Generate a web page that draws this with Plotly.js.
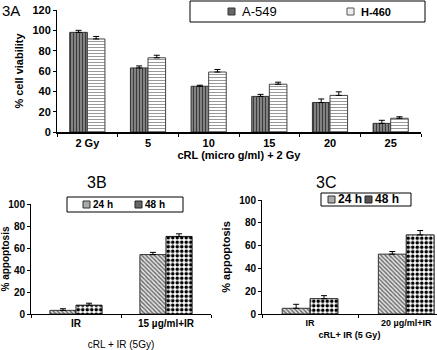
<!DOCTYPE html>
<html><head><meta charset="utf-8">
<script src="https://cdn.plot.ly/plotly-3.0.1.min.js"></script>
<style>html,body{margin:0;padding:0;background:#fff}#c{width:437px;height:350px}</style>
</head><body><div id="c"></div><script>
// Panel 3A: cell viability
const doseLabels = ['2 Gy','5','10','15','20','25'];
const a549 = [98, 63, 45, 35, 29, 8.5];
const a549Err = [2, 2, 1, 2, 3.5, 3];
const h460 = [91.5, 73, 59, 47, 36, 13.5];
const h460Err = [2.5, 2.5, 2.5, 2, 3.5, 1.5];
const seriesA = ['A-549', 'H-460'];

// Panel 3B: apoptosis
const bLabels = ['IR', '15 µg/ml+IR'];
const b24 = [3.3, 54];
const b24Err = [1.5, 2];
const b48 = [8, 70.5];
const b48Err = [1.8, 2.4];

// Panel 3C: apoptosis
const cLabels = ['IR', '20 µg/ml+IR'];
const c24 = [5, 52.5];
const c24Err = [3.5, 2.3];
const c48 = [13.4, 69.4];
const c48Err = [2.7, 3.8];
const seriesT = ['24 h', '48 h'];

const W = 437, H = 350;
const px = x => x / W, py = y => 1 - y / H;
const FONT = 'Arial, "Liberation Sans", sans-serif';

const styleA549 = {color:'#777', line:{color:'#333', width:1}, pattern:{shape:'|', fgcolor:'#3c3c3c', bgcolor:'#8a8a8a', size:3, solidity:0.4}};
const styleH460 = {color:'#fff', line:{color:'#444', width:1}, pattern:{shape:'-', fgcolor:'#999', bgcolor:'#fff', size:3, solidity:0.35}};
const style24 = {color:'#bbb', line:{color:'#333', width:1}, pattern:{shape:'\\', fgcolor:'#666', bgcolor:'#e4e4e4', size:3, solidity:0.45}};
const style48 = {color:'#000', line:{color:'#111', width:1}, pattern:{shape:'.', fgcolor:'#000', bgcolor:'#fff', size:4.5, solidity:0.5}};

function errUp(arr){ return {type:'data', symmetric:false, array:arr, arrayminus:arr.map(()=>0), color:'#000', thickness:1, width:3}; }

function bar(name, x, y, err, marker, xa, ya){
  return {type:'bar', name:name, x:x, y:y, xaxis:xa, yaxis:ya, marker:marker, error_y:errUp(err), showlegend:false, hoverinfo:'x+y'};
}

const data = [
  bar(seriesA[0], doseLabels, a549, a549Err, styleA549, 'x', 'y'),
  bar(seriesA[1], doseLabels, h460, h460Err, styleH460, 'x', 'y'),
  bar(seriesT[0], bLabels, b24, b24Err, style24, 'x2', 'y2'),
  bar(seriesT[1], bLabels, b48, b48Err, style48, 'x2', 'y2'),
  bar(seriesT[0], cLabels, c24, c24Err, style24, 'x3', 'y3'),
  bar(seriesT[1], cLabels, c48, c48Err, style48, 'x3', 'y3')
];

const baseX = {type:'category', showline:true, linecolor:'#000', ticks:'outside', tickson:'boundaries', ticklen:3, tickcolor:'#000', showgrid:false, zeroline:false, fixedrange:true};
const baseY = {showline:true, linecolor:'#000', ticks:'outside', ticklen:3, tickcolor:'#000', showgrid:false, zeroline:false, fixedrange:true};

const layout = {
  width:W, height:H, margin:{l:0,r:0,t:0,b:0}, paper_bgcolor:'#fff', plot_bgcolor:'rgba(0,0,0,0)',
  font:{family:FONT, color:'#000'}, barmode:'group', bargap:0.42, bargroupgap:0, showlegend:false,
  xaxis: Object.assign({}, baseX, {domain:[px(57), px(421)], anchor:'y', range:[-0.5,5.5], linewidth:1.5,
     tickfont:{size:11, weight:'bold'},
     title:{text:'<b>cRL (micro g/ml) + 2 Gy</b>', font:{size:11}, standoff:2}}),
  yaxis: Object.assign({}, baseY, {domain:[py(132), py(10)], anchor:'x', range:[0,120], dtick:20,
     tickfont:{size:11, weight:'bold'},
     title:{text:'<b>% cell viability</b>', font:{size:11}, standoff:6}}),
  xaxis2: Object.assign({}, baseX, {domain:[px(31), px(211)], anchor:'y2', range:[-0.5,1.5],
     tickfont:{size:10, weight:'bold'}, title:{text:'cRL + IR (5Gy)', font:{size:10}, standoff:12}}),
  yaxis2: Object.assign({}, baseY, {domain:[py(314), py(204)], anchor:'x2', range:[0,100], dtick:20,
     tickfont:{size:10, weight:'bold'}, title:{text:'<b>% appoptosis</b>', font:{size:10}, standoff:4}}),
  xaxis3: Object.assign({}, baseX, {domain:[px(262), 1], anchor:'y3', range:[-0.5,1.32],
     tickfont:{size:9, weight:'bold'}, title:{text:'<b>cRL+ IR (5 Gy)</b>', font:{size:9}, standoff:4}}),
  yaxis3: Object.assign({}, baseY, {domain:[py(314), py(200)], anchor:'x3', range:[0,100], dtick:20,
     tickfont:{size:10, weight:'bold'}, title:{text:'<b>% appoptosis</b>', font:{size:11}, standoff:6}}),
  shapes: [
    // legend boxes
    {type:'rect', xref:'paper', yref:'paper', x0:px(190), x1:px(425), y0:py(22), y1:py(1), line:{color:'#000', width:1}},
    {type:'rect', xref:'paper', yref:'paper', x0:px(67), x1:px(183), y0:py(212), y1:py(197), line:{color:'#000', width:1}},
    {type:'rect', xref:'paper', yref:'paper', x0:px(321), x1:px(411), y0:py(206), y1:py(193), line:{color:'#000', width:1}},
    // legend keys
    {type:'rect', xref:'paper', yref:'paper', x0:px(228), x1:px(235), y0:py(15), y1:py(8), fillcolor:'#666', line:{color:'#333', width:1}},
    {type:'rect', xref:'paper', yref:'paper', x0:px(347), x1:px(354), y0:py(15), y1:py(8), fillcolor:'#eee', line:{color:'#555', width:1}},
    {type:'rect', xref:'paper', yref:'paper', x0:px(83), x1:px(90), y0:py(208), y1:py(201), fillcolor:'#aaa', line:{color:'#333', width:1}},
    {type:'rect', xref:'paper', yref:'paper', x0:px(135), x1:px(142), y0:py(208), y1:py(201), fillcolor:'#666', line:{color:'#222', width:1}},
    {type:'rect', xref:'paper', yref:'paper', x0:px(328), x1:px(335), y0:py(203), y1:py(196), fillcolor:'#aaa', line:{color:'#333', width:1}},
    {type:'rect', xref:'paper', yref:'paper', x0:px(365), x1:px(372), y0:py(203), y1:py(196), fillcolor:'#555', line:{color:'#222', width:1}}
  ],
  annotations: [
    {text:'3A', xref:'paper', yref:'paper', x:0, y:py(0), xanchor:'left', yanchor:'top', showarrow:false, font:{size:15}},
    {text:'3B', xref:'paper', yref:'paper', x:px(97), y:py(182), xanchor:'center', yanchor:'middle', showarrow:false, font:{size:16}},
    {text:'3C', xref:'paper', yref:'paper', x:px(326), y:py(182), xanchor:'center', yanchor:'middle', showarrow:false, font:{size:16}},
    {text:seriesA[0], xref:'paper', yref:'paper', x:px(240), y:py(11.5), xanchor:'left', yanchor:'middle', showarrow:false, font:{size:13}},
    {text:'<b>'+seriesA[1]+'</b>', xref:'paper', yref:'paper', x:px(359), y:py(12.5), xanchor:'left', yanchor:'middle', showarrow:false, font:{size:11}},
    {text:'<b>'+seriesT[0]+'</b>', xref:'paper', yref:'paper', x:px(91), y:py(204.5), xanchor:'left', yanchor:'middle', showarrow:false, font:{size:10}},
    {text:'<b>'+seriesT[1]+'</b>', xref:'paper', yref:'paper', x:px(143), y:py(204.5), xanchor:'left', yanchor:'middle', showarrow:false, font:{size:10}},
    {text:'<b>'+seriesT[0]+'</b>', xref:'paper', yref:'paper', x:px(336), y:py(199.5), xanchor:'left', yanchor:'middle', showarrow:false, font:{size:12}},
    {text:'<b>'+seriesT[1]+'</b>', xref:'paper', yref:'paper', x:px(373), y:py(199.5), xanchor:'left', yanchor:'middle', showarrow:false, font:{size:12}}
  ]
};

Plotly.newPlot('c', data, layout, {displayModeBar:false, staticPlot:true});
</script></body></html>
